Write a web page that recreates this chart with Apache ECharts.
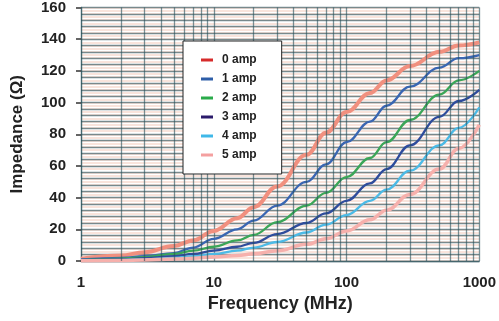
<!DOCTYPE html>
<html><head><meta charset="utf-8">
<script src="https://cdn.jsdelivr.net/npm/echarts@6/dist/echarts.min.js"></script>
<style>html,body{margin:0;padding:0;background:#fff}#c{width:499px;height:321px}</style>
</head><body><div id="c"></div>
<script>
const freqs = [1, 2, 3, 5, 7, 10, 15, 20, 30, 50, 70, 100, 150, 200, 300, 500, 700, 1000];
const amp0 = [1.5, 3.5, 5.5, 9.5, 13, 19, 27, 34, 47, 67, 81, 94, 106, 114, 123, 132, 136, 138];
const amp1 = [1, 2, 3, 5, 8.5, 14, 20, 25.5, 35, 50, 61, 75, 88, 98, 110, 122, 128, 130];
const amp2 = [0.5, 1.5, 2.5, 4.5, 6.5, 9, 13, 16.5, 24.5, 35, 43, 53, 65, 75, 89, 105, 114, 120];
const amp3 = [0.3, 1, 1.8, 3, 4.5, 6.5, 9, 11.5, 17, 24, 30, 38, 49, 58, 73, 91, 101, 108];
const amp4 = [0.2, 0.6, 1, 2, 3, 4.5, 6.5, 8.5, 12, 18, 23, 29, 38, 45, 57, 73, 84, 97];
const amp5 = [0.1, 0.3, 0.6, 1.2, 1.8, 2.5, 3.5, 4.5, 6.5, 10.5, 14, 19, 26, 32, 42, 58, 71, 86];
const seriesNames = ['0 amp', '1 amp', '2 amp', '3 amp', '4 amp', '5 amp'];
const minorFreqs = [2,3,4,5,6,7,8,9,20,30,40,50,60,70,80,90,200,300,400,500,600,700,800,900];
const yTicks = [0, 20, 40, 60, 80, 100, 120, 140, 160];

const allVals = [amp0, amp1, amp2, amp3, amp4, amp5];
const lineColors = ['#f1907f', '#3a66b2', '#3ba658', '#2e4c9c', '#4cbae6', '#f6b0ac'];
const lineWidths = [4, 2.3, 2.3, 2.3, 2.3, 3.5];
const legendColors = ['#d62b2b', '#2e5ea8', '#2aab4a', '#2b1b6b', '#40b8e8', '#f4a0a0'];

const darkGrid = 'rgba(40,80,90,0.62)';
const pinkGrid = 'rgba(242,190,172,0.55)';

const series = allVals.map((vals, i) => ({
  name: seriesNames[i],
  type: 'line',
  smooth: 0.4,
  smoothMonotone: 'x',
  showSymbol: false,
  symbol: 'none',
  z: 3,
  color: lineColors[i],
  lineStyle: { color: lineColors[i], width: lineWidths[i], opacity: 1 },
  data: freqs.map((f, j) => [f, vals[j]])
}));
series.push({
  name: 'grid-v', type: 'line', data: [], silent: true, z: 2, symbol: 'none',
  markLine: {
    silent: true, symbol: 'none', label: { show: false },
    lineStyle: { color: darkGrid, width: 1.3, type: 'solid' },
    data: minorFreqs.map(f => ({ xAxis: f }))
  }
});

const chart = echarts.init(document.getElementById('c'), null, { renderer: 'canvas' });
chart.setOption({
  animation: false,
  backgroundColor: '#ffffff',
  grid: { left: 81, right: 15, top: 6, bottom: 60, show: true, backgroundColor: '#ffffff', borderWidth: 0 },
  legend: {
    orient: 'vertical', left: 183, top: 41, z: 20,
    backgroundColor: '#ffffff', borderColor: '#222', borderWidth: 1,
    padding: [13, 25, 13, 18], itemGap: 7, itemWidth: 12, itemHeight: 3,
    icon: 'rect',
    textStyle: { fontFamily: 'Liberation Sans', fontWeight: 'bold', fontSize: 12, color: '#222', padding: [0, 0, 0, 4] },
    data: seriesNames.map((n, i) => ({ name: n, itemStyle: { color: legendColors[i] } }))
  },
  xAxis: {
    type: 'log', logBase: 10, min: 1, max: 1000, z: 1,
    axisLine: { show: true, lineStyle: { color: darkGrid, width: 1.3 } },
    axisTick: { show: false },
    splitLine: { show: true, lineStyle: { color: darkGrid, width: 1.3 } },
    axisLabel: { margin: 14, fontFamily: 'Liberation Sans', fontWeight: 'bold', fontSize: 15, color: '#222',
      formatter: v => String(Math.round(v)) },
    name: 'Frequency (MHz)', nameLocation: 'middle', nameGap: 34,
    nameTextStyle: { fontFamily: 'Liberation Sans', fontWeight: 'bold', fontSize: 18, color: '#222' }
  },
  yAxis: [{
    type: 'value', min: 0, max: 160, interval: 20, z: 1,
    axisLine: { show: true, lineStyle: { color: darkGrid, width: 1.3 } },
    axisTick: { show: true, length: 5, lineStyle: { color: '#333', width: 1.5 } },
    splitLine: { show: true, lineStyle: { color: darkGrid, width: 1.3 } },
    minorTick: { show: false, splitNumber: 5 },
    minorSplitLine: { show: true, lineStyle: { color: darkGrid, width: 1.3 } },
    axisLabel: { margin: 15, fontFamily: 'Liberation Sans', fontWeight: 'bold', fontSize: 15, color: '#222',
      formatter: v => yTicks.includes(v) ? String(v) : '' },
    name: 'Impedance (Ω)', nameLocation: 'middle', nameGap: 55, nameRotate: 90,
    nameTextStyle: { fontFamily: 'Liberation Sans', fontWeight: 'bold', fontSize: 17, color: '#222' }
  }, {
    type: 'value', min: 0, max: 160, interval: 2, z: 0, position: 'left',
    axisLine: { show: false }, axisTick: { show: false }, axisLabel: { show: false },
    splitLine: { show: true, lineStyle: { color: pinkGrid, width: 1.5 } }
  }],
  series: series
});
</script></body></html>
